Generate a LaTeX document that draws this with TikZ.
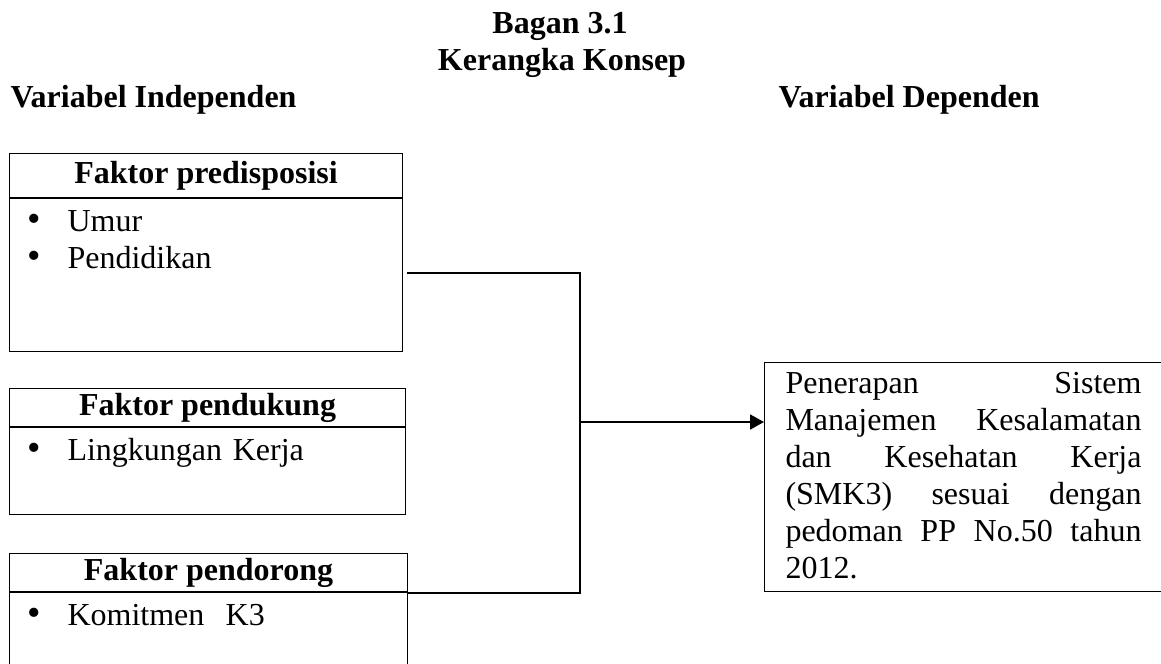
\documentclass[tikz,border=0pt]{standalone}
\usepackage{fontspec}
\usepackage{graphicx}
\setmainfont{Liberation Serif}
\usetikzlibrary{positioning}
\usetikzlibrary{arrows.meta}
\newcommand{\titik}[1]{\hspace*{6.8pt}\makebox[14.95pt][l]{\scalebox{1.2}{\textbullet}}#1}
\newcommand{\baris}[1]{\leavevmode\hbox to 133.5pt{\spaceskip=0.25em plus 1fil\relax #1}}
\tikzset {
  box node/.style = {
    draw = black,
    rectangle,
    inner sep = 0pt
  },
  % bold title of a factor box
  head/.style = {
    box node,
    font = \bfseries,
    anchor = north west,
    minimum height = 14.25pt
  },
  % list part under a title
  body/.style = {
    box node,
    align = left,
    text height = 12.375pt,
    text depth = #1
  },
  label/.style = {
    inner sep = 0pt,
    font = \bfseries
  }
}
\tikzset {
  line/.style = {
    draw = black,
    line width = 0.75pt
  },
  % line ending in a filled head
  arr/.style = {
    line,
    -{Triangle[length = 5.25pt, width = 5.6pt]}
  }
}

\begin{document}
\fontsize{12}{13.875}\selectfont
\begin{tikzpicture}[x = 0.375pt, y = -0.375pt]
    \useasboundingbox (0,0) rectangle (1161,663);
    \node[label, anchor = base] (title) at (560,33) {Bagan 3.1};
    \node[label, anchor = base] (subtitle) at (562,70) {Kerangka Konsep};
    \node[label, anchor = base west] (indep) at (10,107) {Variabel Independen};
    \node[label, anchor = base west] (dep) at (778,107) {Variabel Dependen};

    \node[head, minimum width = 147.375pt, minimum height = 16.5pt] (pre-head) at (9,153) {Faktor predisposisi};
    \node[body = 45pt, text width = 147.375pt] (pre-body) [below = 0pt of pre-head] {\titik{Umur}\\ \titik{Pendidikan}};
    \node[head, minimum width = 148.5pt] (sup-head) at (9,388) {Faktor pendukung};
    \node[body = 20.25pt, text width = 148.5pt] (sup-body) [below = 0pt of sup-head] {\titik{Lingkungan Kerja}};
    \node[head, minimum width = 149.25pt] (push-head) at (9,553) {Faktor pendorong};
    \node[body = 21pt, text width = 149.25pt] (push-body) [below = 0pt of push-head] {\titik{Komitmen\ \ K3}};

    \node[box node, anchor = north west, align = left, text width = 153.5pt, inner xsep = 7.875pt, text height = 11.625pt, text depth = 74.25pt] (result) at (764,362) {\baris{Penerapan Sistem}\\ \baris{Manajemen Kesalamatan}\\ \baris{dan Kesehatan Kerja}\\ \baris{(SMK3) sesuai dengan}\\ \baris{pedoman PP No.50 tahun}\\ 2012.};

    \coordinate (join-top) at (580,273);
    \coordinate (join-mid) at (580,422);
    \coordinate (join-bot) at (580,593);

    \draw[line] (pre-body.east |- join-top) ++(4,0) -- (join-top) -- (join-bot) -- (push-body.east |- join-bot);
    \draw[arr] (join-mid) -- (result.west |- join-mid);
  \end{tikzpicture}
\end{document}
